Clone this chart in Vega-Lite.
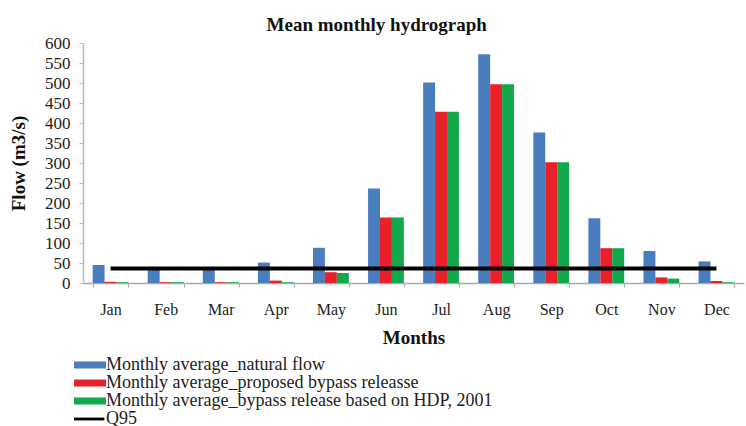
{
  "$schema": "https://vega.github.io/schema/vega-lite/v6.json",
  "autosize": "none",
  "width": 661,
  "height": 240,
  "padding": {"left": 83, "top": 43, "right": 2, "bottom": 143},
  "background": "white",
  "config": {
    "font": "Liberation Serif",
    "view": {"stroke": null},
    "axis": {"grid": false},
    "legend": {"rowPadding": -3}
  },
  "title": {
    "text": "Mean monthly hydrograph",
    "font": "Liberation Serif",
    "fontSize": 19,
    "fontWeight": "bold",
    "color": "#111",
    "anchor": "middle",
    "frame": "bounds",
    "offset": -1
  },
  "data": {
    "values": [
      {"month": "Jan", "series": "Monthly average_natural flow", "value": 45},
      {"month": "Feb", "series": "Monthly average_natural flow", "value": 34},
      {"month": "Mar", "series": "Monthly average_natural flow", "value": 33},
      {"month": "Apr", "series": "Monthly average_natural flow", "value": 51},
      {"month": "May", "series": "Monthly average_natural flow", "value": 88},
      {"month": "Jun", "series": "Monthly average_natural flow", "value": 236},
      {"month": "Jul", "series": "Monthly average_natural flow", "value": 501},
      {"month": "Aug", "series": "Monthly average_natural flow", "value": 572},
      {"month": "Sep", "series": "Monthly average_natural flow", "value": 376},
      {"month": "Oct", "series": "Monthly average_natural flow", "value": 162},
      {"month": "Nov", "series": "Monthly average_natural flow", "value": 80},
      {"month": "Dec", "series": "Monthly average_natural flow", "value": 54},
      {"month": "Jan", "series": "Monthly average_proposed bypass releasse", "value": 3},
      {"month": "Feb", "series": "Monthly average_proposed bypass releasse", "value": 2},
      {"month": "Mar", "series": "Monthly average_proposed bypass releasse", "value": 2},
      {"month": "Apr", "series": "Monthly average_proposed bypass releasse", "value": 6},
      {"month": "May", "series": "Monthly average_proposed bypass releasse", "value": 27},
      {"month": "Jun", "series": "Monthly average_proposed bypass releasse", "value": 164},
      {"month": "Jul", "series": "Monthly average_proposed bypass releasse", "value": 428},
      {"month": "Aug", "series": "Monthly average_proposed bypass releasse", "value": 497},
      {"month": "Sep", "series": "Monthly average_proposed bypass releasse", "value": 302},
      {"month": "Oct", "series": "Monthly average_proposed bypass releasse", "value": 87},
      {"month": "Nov", "series": "Monthly average_proposed bypass releasse", "value": 14},
      {"month": "Dec", "series": "Monthly average_proposed bypass releasse", "value": 5},
      {"month": "Jan", "series": "Monthly average_bypass release based on HDP, 2001", "value": 2},
      {"month": "Feb", "series": "Monthly average_bypass release based on HDP, 2001", "value": 2},
      {"month": "Mar", "series": "Monthly average_bypass release based on HDP, 2001", "value": 2},
      {"month": "Apr", "series": "Monthly average_bypass release based on HDP, 2001", "value": 2},
      {"month": "May", "series": "Monthly average_bypass release based on HDP, 2001", "value": 25},
      {"month": "Jun", "series": "Monthly average_bypass release based on HDP, 2001", "value": 164},
      {"month": "Jul", "series": "Monthly average_bypass release based on HDP, 2001", "value": 428},
      {"month": "Aug", "series": "Monthly average_bypass release based on HDP, 2001", "value": 497},
      {"month": "Sep", "series": "Monthly average_bypass release based on HDP, 2001", "value": 302},
      {"month": "Oct", "series": "Monthly average_bypass release based on HDP, 2001", "value": 87},
      {"month": "Nov", "series": "Monthly average_bypass release based on HDP, 2001", "value": 11},
      {"month": "Dec", "series": "Monthly average_bypass release based on HDP, 2001", "value": 2},
      {"month": "Jan", "series": "Q95", "value": 36},
      {"month": "Feb", "series": "Q95", "value": 36},
      {"month": "Mar", "series": "Q95", "value": 36},
      {"month": "Apr", "series": "Q95", "value": 36},
      {"month": "May", "series": "Q95", "value": 36},
      {"month": "Jun", "series": "Q95", "value": 36},
      {"month": "Jul", "series": "Q95", "value": 36},
      {"month": "Aug", "series": "Q95", "value": 36},
      {"month": "Sep", "series": "Q95", "value": 36},
      {"month": "Oct", "series": "Q95", "value": 36},
      {"month": "Nov", "series": "Q95", "value": 36},
      {"month": "Dec", "series": "Q95", "value": 36}
    ]
  },
  "encoding": {
    "x": {
      "field": "month",
      "type": "nominal",
      "sort": ["Jan","Feb","Mar","Apr","May","Jun","Jul","Aug","Sep","Oct","Nov","Dec"],
      "scale": {"paddingInner": 0.35, "paddingOuter": 0.175},
      "axis": {
        "title": "Months",
        "titleFont": "Liberation Serif",
        "titleFontSize": 19,
        "titleFontWeight": "bold",
        "titleColor": "#111",
        "titlePadding": 11,
        "labelAngle": 0,
        "labelFont": "Liberation Serif",
        "labelFontSize": 16,
        "labelColor": "#222",
        "labelPadding": 14,
        "tickBand": "extent",
        "tickSize": 4,
        "tickColor": "#aaa",
        "domainColor": "#aaa",
        "domainWidth": 1.5
      }
    },
    "y": {
      "field": "value",
      "type": "quantitative",
      "scale": {"domain": [0, 600], "nice": false},
      "axis": {
        "title": "Flow (m3/s)",
        "titleFont": "Liberation Serif",
        "titleFontSize": 19,
        "titleFontWeight": "bold",
        "titleColor": "#111",
        "titlePadding": 16,
        "values": [0,50,100,150,200,250,300,350,400,450,500,550,600],
        "labelFont": "Liberation Serif",
        "labelFontSize": 17,
        "labelColor": "#222",
        "labelPadding": 9,
        "tickSize": 4,
        "tickColor": "#bbb",
        "domainColor": "#bbb",
        "domainWidth": 1.5
      }
    },
    "color": {
      "field": "series",
      "type": "nominal",
      "sort": ["Monthly average_natural flow", "Monthly average_proposed bypass releasse", "Monthly average_bypass release based on HDP, 2001", "Q95"],
      "scale": {
        "domain": ["Monthly average_natural flow", "Monthly average_proposed bypass releasse", "Monthly average_bypass release based on HDP, 2001", "Q95"],
        "range": ["#4A7DBE", "#E8202A", "#12A84C", "#000000"]
      },
      "legend": {
        "title": null,
        "orient": "none",
        "legendX": -2,
        "legendY": 313,
        "padding": 0,
        "direction": "vertical",
        "labelFont": "Liberation Serif",
        "labelFontSize": 18,
        "labelColor": "#222",
        "labelOffset": 7,
        "labelLimit": 0,
        "symbolSize": 256,
        "symbolStrokeWidth": 0,
        "encode": {
          "symbols": {
            "update": {
              "fill": {"scale": "color", "field": "value"},
              "stroke": {"value": "transparent"},
              "opacity": {"value": 1},
              "shape": [
                {"test": "datum.value === 'Q95'", "value": "M-2,-0.18H1.8V0.18H-2Z"},
                {"value": "M-2,-0.44H2V0.44H-2Z"}
              ]
            }
          }
        }
      }
    }
  },
  "layer": [
    {
      "transform": [{"filter": "datum.series !== 'Q95'"}],
      "mark": {"type": "bar"},
      "encoding": {
        "xOffset": {
          "field": "series",
          "type": "nominal",
          "sort": ["Monthly average_natural flow", "Monthly average_proposed bypass releasse", "Monthly average_bypass release based on HDP, 2001"]
        }
      }
    },
    {
      "transform": [{"filter": "datum.series === 'Q95'"}],
      "mark": {"type": "line", "strokeWidth": 4},
      "encoding": {}
    }
  ]
}
